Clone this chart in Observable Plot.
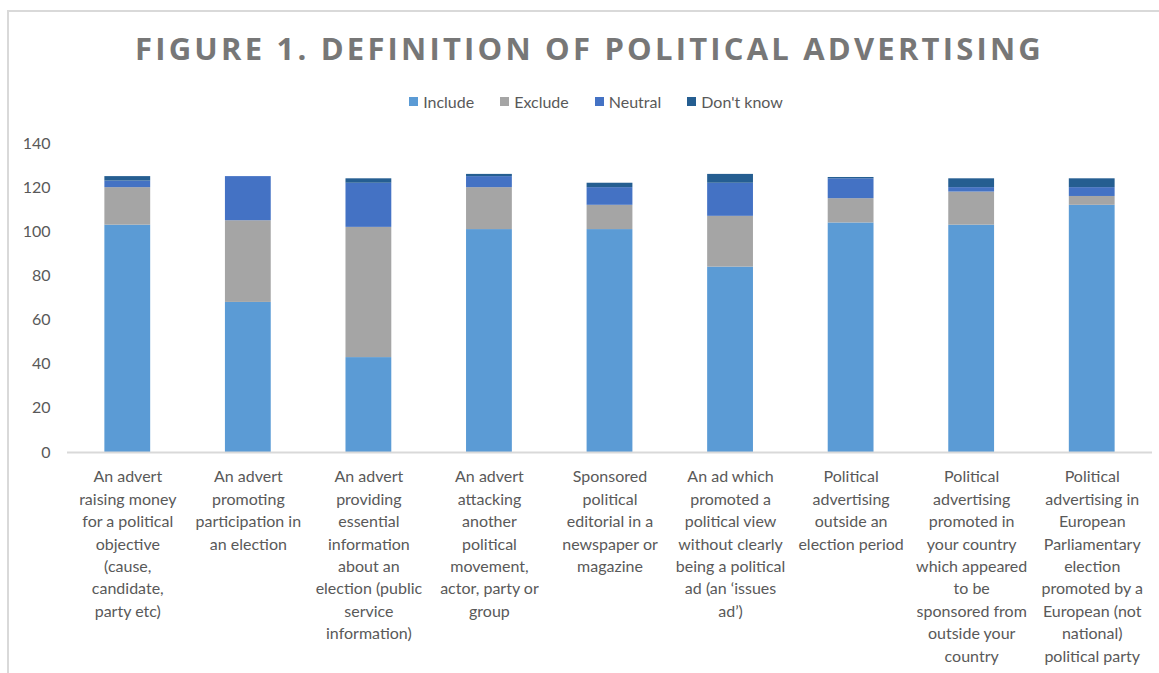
<!DOCTYPE html>
<html>
<head>
<meta charset="utf-8">
<script src="https://cdn.jsdelivr.net/npm/d3@7"></script>
<script src="https://cdn.jsdelivr.net/npm/@observablehq/plot@0.6"></script>
<style>
  html, body { margin: 0; padding: 0; background: #fff; }
  #wrap { position: relative; width: 1159px; height: 673px; overflow: hidden; font-family: Lato, "Open Sans", sans-serif; background: #fff; }
  #frame { position: absolute; z-index: 5; left: 7px; top: 10px; width: 1160px; height: 680px; border-left: 2px solid #d9d9d9; border-top: 2px solid #d9d9d9; box-sizing: border-box; pointer-events: none; }
  #title { position: absolute; left: 0; width: 1159px; top: 27px; text-align: center; font-family: "Open Sans", Lato, sans-serif; font-weight: 700; font-size: 31px; letter-spacing: 3.2px; color: #777; padding-left: 20px; box-sizing: border-box; }
  #legend { position: absolute; top: 92px; left: 0; width: 1159px; display: flex; justify-content: center; gap: 26px; font-size: 16px; color: #595959; padding-left: 33px; box-sizing: border-box; }
  #legend span.item { display: inline-flex; align-items: center; }
  #legend span.sw { display: inline-block; width: 9px; height: 9px; margin-right: 5px; }
  #chart { position: absolute; left: 0; top: 125px; }
</style>
</head>
<body>
<div id="wrap">
  <div id="title">FIGURE 1. DEFINITION OF POLITICAL ADVERTISING</div>
  <div id="legend"></div>
  <div id="chart"></div>
  <div id="frame"></div>
</div>
<script>
const categories = [
  "An advert\nraising money\nfor a political\nobjective\n(cause,\ncandidate,\nparty etc)",
  "An advert\npromoting\nparticipation in\nan election",
  "An advert\nproviding\nessential\ninformation\nabout an\nelection (public\nservice\ninformation)",
  "An advert\nattacking\nanother\npolitical\nmovement,\nactor, party or\ngroup",
  "Sponsored\npolitical\neditorial in a\nnewspaper or\nmagazine",
  "An ad which\npromoted a\npolitical view\nwithout clearly\nbeing a political\nad (an \u2018issues\nad\u2019)",
  "Political\nadvertising\noutside an\nelection period",
  "Political\nadvertising\npromoted in\nyour country\nwhich appeared\nto be\nsponsored from\noutside your\ncountry",
  "Political\nadvertising in\nEuropean\nParliamentary\nelection\npromoted by a\nEuropean (not\nnational)\npolitical party"
];
const include  = [103, 68, 43, 101, 101, 84, 104, 103, 112];
const exclude  = [17, 37, 59, 19, 11, 23, 11, 15, 4];
const neutral  = [3, 20, 20, 5, 8, 15, 9, 2, 4];
const dontKnow = [2, 0, 2, 1, 2, 4, 0.6, 4, 4];
const seriesNames = ["Include", "Exclude", "Neutral", "Don't know"];
const seriesColors = ["#5b9bd5", "#a5a5a5", "#4472c4", "#255e91"];
const yTicks = [0, 20, 40, 60, 80, 100, 120, 140];

const seriesValues = [include, exclude, neutral, dontKnow];
const table = [];
seriesNames.forEach((s, si) => {
  categories.forEach((c, ci) => {
    table.push({category: c, series: s, value: seriesValues[si][ci]});
  });
});

// legend
const legend = document.getElementById("legend");
seriesNames.forEach((s, i) => {
  const item = document.createElement("span");
  item.className = "item";
  const sw = document.createElement("span");
  sw.className = "sw";
  sw.style.background = seriesColors[i];
  item.appendChild(sw);
  item.appendChild(document.createTextNode(s));
  legend.appendChild(item);
});

const chart = Plot.plot({
  width: 1159,
  height: 548,
  marginTop: 18,
  marginBottom: 221,
  marginLeft: 67,
  marginRight: 7,
  style: {fontFamily: "Lato, 'Open Sans', sans-serif", background: "transparent"},
  x: {domain: categories, paddingInner: 0.62, paddingOuter: 0.31, round: false, label: null},
  y: {domain: [0, 140], label: null},
  color: {domain: seriesNames, range: seriesColors},
  marks: [
    Plot.barY(table, {x: "category", y: "value", fill: "series", order: seriesNames}),
    Plot.ruleY([0], {stroke: "#d9d9d9", strokeWidth: 2}),
    Plot.axisX({tickSize: 0, tickPadding: 14, fontSize: 16, lineHeight: 1.4, fill: "#595959", label: null}),
    Plot.axisY({ticks: yTicks, tickSize: 0, tickPadding: 17, fontSize: 16, fill: "#595959", label: null})
  ]
});
document.getElementById("chart").appendChild(chart);
</script>
</body>
</html>
